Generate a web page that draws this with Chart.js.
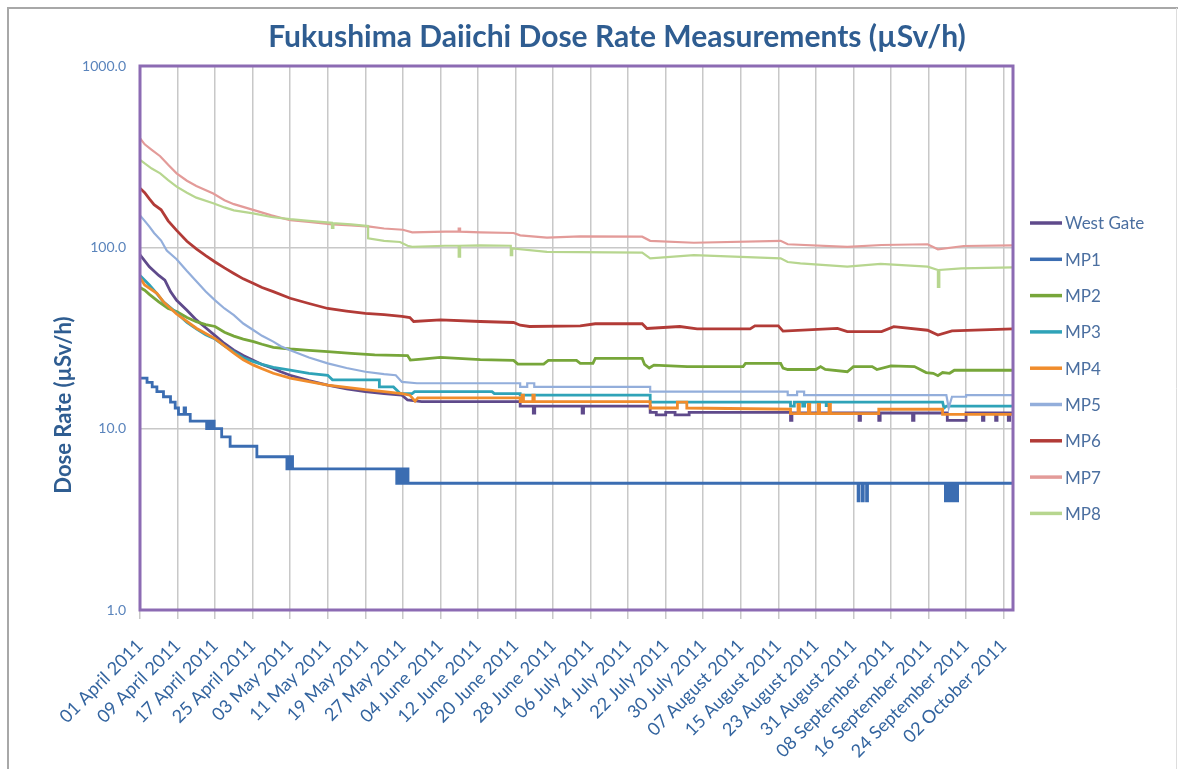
<!DOCTYPE html>
<html lang="en">
<head>
    <meta charset="utf-8" />
    <title>Fukushima Daiichi Dose Rate Measurements</title>
    <script src="https://cdn.jsdelivr.net/npm/chart.js"></script>
    <style>
        body { margin: 0; background: #fff; }
        #doseChart { display: block; }
    </style>
</head>
<body>
<canvas id="doseChart" width="1178" height="769"></canvas>

<script>
    // Chart texts
    var chartTitle = 'Fukushima Daiichi Dose Rate Measurements (µSv/h)';
    var yAxisTitle = 'Dose Rate (µSv/h)';

    // x axis: days since 01 April 2011, one label every 8 days
    var xTickLabels = ['01 April 2011', '09 April 2011', '17 April 2011', '25 April 2011', '03 May 2011',
        '11 May 2011', '19 May 2011', '27 May 2011', '04 June 2011', '12 June 2011', '20 June 2011',
        '28 June 2011', '06 July 2011', '14 July 2011', '22 July 2011', '30 July 2011', '07 August 2011',
        '15 August 2011', '23 August 2011', '31 August 2011', '08 September 2011', '16 September 2011',
        '24 September 2011', '02 October 2011'];
    var lastDay = 186;
    var yTickValues = [1, 10, 100, 1000];

    var seriesNames = ['West Gate', 'MP1', 'MP2', 'MP3', 'MP4', 'MP5', 'MP6', 'MP7', 'MP8'];

    // [day, µSv/h]
    var westGate = [[0, 91], [2, 78], [4, 70], [5.3, 66], [6.5, 57], [7.8, 51], [10, 45], [12, 39.8], [14, 36], [16, 32.6],
        [18, 29.5], [20, 27.1], [22, 25.3], [24, 23.9], [26, 22.6], [28.4, 21.5], [30, 20.6], [32, 19.7], [36, 18.4],
        [40, 17.4], [44, 16.6], [48, 16], [52, 15.6], [55.8, 15.3], [57, 14.4], [60, 14.1], [81, 14.1], [81, 13.3],
        [83.8, 13.3], [83.8, 12.2], [84.1, 12.2], [84.1, 13.3], [94.2, 13.3], [94.2, 12.2], [94.5, 12.2], [94.5, 13.3],
        [108.7, 13.3], [108.7, 12.3], [110, 12.3], [110, 11.9], [112, 11.9], [112, 12.3], [114, 12.3], [114, 11.9],
        [117, 11.9], [117, 12.3], [138.6, 12.3], [138.6, 11.1], [138.9, 11.1], [138.9, 12.2], [153.2, 12.2],
        [153.2, 11.1], [153.5, 11.1], [153.5, 12.2], [157.4, 12.2], [157.4, 11.1], [157.7, 11.1], [157.7, 12.2],
        [164.6, 12.2], [164.6, 11.1], [164.9, 11.1], [164.9, 12.2], [172, 12.2], [172, 11.1], [176, 11.1], [176, 12.2],
        [179.5, 12.2], [179.5, 11.1], [179.8, 11.1], [179.8, 12.2], [182.3, 12.2], [182.3, 11.1], [182.6, 11.1],
        [182.6, 12.2], [185, 12.2], [185, 11.1], [185.3, 11.1], [185.3, 12.2], [186, 12.2]];
    var mp1 = [[0, 19], [1.5, 18], [2.6, 17], [3.6, 16], [5, 15], [6.5, 14], [7.5, 13], [8.2, 12], [9.4, 13], [9.7, 12],
        [10.7, 11], [14.2, 10], [14.5, 11], [14.8, 10], [15.1, 11], [15.4, 10], [15.6, 11], [15.8, 10], [17.4, 9],
        [19.2, 8], [24.9, 7], [31.3, 6], [31.6, 7], [31.9, 6], [32.2, 7], [32.5, 6], [54.7, 5], [55, 6], [55.3, 5],
        [55.6, 6], [55.9, 5], [56.2, 6], [56.5, 5], [56.9, 6], [57.1, 5], [153, 4], [153.2, 5], [153.9, 4], [154.1, 5],
        [154.8, 4], [155, 5], [171.6, 4], [171.8, 5], [172.4, 4], [172.6, 5], [173.2, 4], [173.4, 5], [174, 4],
        [174.2, 5], [186, 5]];
    var mp2 = [[0, 60], [1, 58], [2, 55], [4, 50], [6, 46], [7.8, 44.3], [10, 41], [12, 38.9], [14, 37.5], [16, 36.6],
        [18, 34], [20, 32.4], [22, 31.2], [24.2, 30.2], [26, 29.2], [28.4, 28.1], [32, 27.5], [36, 27], [40, 26.6],
        [45, 26], [50, 25.5], [57, 25.3], [57.6, 23.9], [60, 24.2], [64, 24.7], [72.5, 24], [79.6, 23.8], [80.5, 22.7],
        [86, 22.7], [87, 23.8], [93, 23.8], [93.8, 22.9], [96.5, 22.9], [97, 24.4], [107, 24.4], [107.5, 22.6],
        [108.5, 21.6], [109.5, 22.4], [116.6, 22], [128.5, 22], [129, 22.9], [136.5, 22.9], [137, 21.6], [138, 21.2],
        [144, 21.2], [145, 22], [146, 21.2], [150.7, 20.6], [152, 22], [156, 22], [157, 21.2], [160, 22.2], [165, 22],
        [167.5, 20.4], [169, 20.2], [170, 19.6], [171, 20.4], [172.5, 20.2], [173.5, 21], [186, 21]];
    var mp3 = [[0, 70], [2, 62], [3.6, 55.5], [5, 50], [7.8, 43.5], [10, 38.5], [12, 35.5], [14, 33], [16, 31.2],
        [18, 28.6], [20, 26.5], [22, 24.6], [24, 23.5], [26, 22.6], [28.4, 21.8], [32, 21], [36, 20.2], [40, 19.7],
        [41, 18.6], [51, 18.6], [51, 17], [54, 17], [55.5, 15.6], [58, 15.6], [58.5, 16], [75, 16], [75.5, 15.6],
        [81, 15.6], [81, 15.3], [108.7, 15.3], [108.7, 14], [138.6, 14], [138.6, 13.3], [139.4, 13.3], [139.4, 14],
        [141.2, 14], [141.2, 13.3], [141.6, 13.3], [141.6, 14], [146.2, 14], [146.2, 13.4], [146.6, 13.4],
        [146.6, 14], [171, 14], [171.3, 13], [171.8, 13.3], [186, 13.3]];
    var mp4 = [[0, 68], [1, 62], [3.6, 55.8], [5, 50], [7.8, 43], [10, 39], [12, 35.8], [14, 33.5], [16, 31.4],
        [18, 28.6], [20, 26.1], [22, 24], [24.2, 22.4], [26, 21.4], [28.4, 20.2], [32, 19], [36, 18.2], [40, 17.4],
        [44, 16.9], [48, 16.4], [52, 16], [55.8, 15.6], [57.5, 15.3], [58.6, 14.2], [59.2, 14.8], [81, 14.8],
        [81, 14.1], [81.4, 14.1], [81.4, 15.3], [81.7, 15.3], [81.7, 14.1], [83.7, 14.1], [83.7, 15.3], [84, 15.3],
        [84, 14.1], [108.7, 14.1], [108.7, 13], [114.5, 13], [114.5, 14], [116.5, 14], [116.5, 13], [138.6, 12.8],
        [138.6, 12.1], [140.2, 12.1], [140.2, 13.6], [140.5, 13.6], [140.5, 12.1], [142.4, 12.1], [142.4, 13.6],
        [142.7, 13.6], [142.7, 12.1], [144.5, 12.1], [144.5, 13.6], [144.8, 13.6], [144.8, 12.1], [146.8, 12.1],
        [146.8, 13.6], [147.1, 13.6], [147.1, 12.1], [157.4, 12.1], [157.4, 12.8], [171, 12.8], [171, 12], [186, 12]];
    var mp5 = [[0, 150], [1, 140], [2, 130], [3, 120], [4.5, 109], [5.7, 96], [7.8, 86], [10, 74], [12, 65], [14, 57],
        [16, 51], [18, 46], [20, 42.3], [22, 38], [24.2, 34.9], [26, 32.5], [28.4, 30.2], [30, 28.5], [32, 27.1],
        [36, 24.7], [40, 22.9], [44, 21.6], [48, 20.6], [52, 20], [54.5, 19.7], [55.8, 18.1], [59, 17.8], [81, 17.8],
        [81, 17], [82.5, 17], [82.5, 17.8], [84, 17.8], [84, 17], [108.7, 17], [108.7, 16], [138, 16], [138, 15.3],
        [140, 15.3], [140, 16], [141.5, 16], [141.5, 15.3], [171.8, 15.3], [172.3, 13], [173, 15], [176, 15],
        [176, 15.3], [186, 15.3]];
    var mp6 = [[0, 212], [1, 200], [2, 185], [3, 172], [4.5, 161], [6, 140], [7.8, 124], [10, 108], [12, 98],
        [14, 90], [16, 83], [18, 77], [20, 71.7], [22, 67], [24.2, 63.2], [26, 60], [28.4, 57], [32, 52.4], [36, 49],
        [40, 46], [44, 44.5], [48, 43.2], [52, 42.5], [55.8, 41.6], [57.5, 41], [58.3, 39], [64, 39.8], [72.5, 39],
        [79.6, 38.5], [81, 37.2], [83, 36.6], [93.8, 36.9], [97, 37.9], [107, 37.9], [108, 35.7], [115, 36.6],
        [118.7, 35.5], [130, 35.5], [131, 36.9], [136, 36.9], [137, 34.5], [148.6, 35.7], [150.7, 34.3], [158, 34.3],
        [160.6, 36.5], [167.8, 34.9], [170, 32.8], [173, 34.6], [186, 35.5]];
    var mp7 = [[0, 400], [1, 370], [2.5, 345], [4.3, 318], [6, 285], [7.8, 256], [10, 233], [12, 218], [15.6, 198],
        [18, 182], [20, 173], [24.1, 161], [28, 150], [32, 141], [36, 138], [41, 134], [45, 132], [49, 130], [52, 127],
        [56, 125], [58, 121], [65, 122], [67.9, 122], [67.9, 127], [68.2, 127], [68.2, 122], [72.5, 121], [79.6, 120],
        [81, 116.5], [86.7, 113], [93.8, 115], [107, 114.5], [108.7, 108.6], [118, 106], [136.5, 108.6], [138, 104],
        [150.7, 100.6], [158, 103], [167.8, 104], [170, 97.5], [175.5, 101.7], [186, 102.6]];
    var mp8 = [[0, 304], [1, 290], [2.5, 272], [4.3, 256], [6, 235], [7.8, 216], [10, 200], [12, 188], [15.6, 175],
        [18, 166], [20, 160], [24.1, 154], [28, 147], [32, 143], [36, 140], [40.9, 136.5], [40.9, 128], [41.2, 128],
        [41.2, 136], [45, 134], [48.6, 131], [48.6, 112], [52, 108.6], [55.4, 107], [57, 102], [58, 100.6], [65, 102],
        [67.9, 102], [67.9, 88.8], [68.2, 88.8], [68.2, 102], [72.5, 102.6], [79, 102], [79, 90.6], [79.3, 90.6],
        [79.3, 98.5], [86.7, 94.5], [107, 93.5], [108.7, 87], [118, 90.6], [136.5, 87], [138, 83], [140.7, 81.5],
        [150.7, 78.3], [157.8, 81], [167.8, 78.3], [170, 75], [170, 60.5], [170.3, 60.5], [170.3, 75], [175, 76.5],
        [186, 77.6]];

    var seriesData = [westGate, mp1, mp2, mp3, mp4, mp5, mp6, mp7, mp8];
    var seriesColors = ['#5F4A8B', '#3B6DB2', '#77A63A', '#2FA3B8', '#F08C2C', '#93AEDB', '#B23B37', '#E39B99', '#B7D68F'];

    var fontFamily = "Lato, 'Open Sans', sans-serif";
    Chart.defaults.font.family = fontFamily;

    // title, y title, legend and frames drawn around the plot
    var decorPlugin = {
        id: 'decor',
        beforeDraw: function (chart) {
            var ctx = chart.ctx;
            ctx.save();
            ctx.fillStyle = '#fff';
            ctx.fillRect(0, 0, chart.width, chart.height);
            ctx.strokeStyle = '#A8A8A8';
            ctx.lineWidth = 2;
            ctx.beginPath();
            ctx.moveTo(8, chart.height);
            ctx.lineTo(8, 8);
            ctx.lineTo(chart.width, 8);
            ctx.stroke();
            ctx.strokeStyle = '#DDDDDD';
            ctx.lineWidth = 1;
            ctx.beginPath();
            ctx.moveTo(1176.5, 8);
            ctx.lineTo(1176.5, chart.height);
            ctx.stroke();
            ctx.restore();
        },
        afterDraw: function (chart) {
            var ctx = chart.ctx;
            var area = chart.chartArea;
            ctx.save();
            // plot border
            ctx.strokeStyle = '#8C6BB3';
            ctx.lineWidth = 3;
            ctx.strokeRect(area.left, area.top, area.right - area.left, area.bottom - area.top);

            // chart title
            ctx.fillStyle = '#2F5D91';
            ctx.textAlign = 'center';
            ctx.textBaseline = 'alphabetic';
            ctx.font = 'bold 30px ' + fontFamily;
            ctx.fillText(chartTitle, 617, 47);

            // y axis title
            ctx.save();
            ctx.translate(71, 405);
            ctx.rotate(-Math.PI / 2);
            ctx.font = 'bold 22px ' + fontFamily;
            ctx.fillText(yAxisTitle, 0, 0);
            ctx.restore();

            // legend
            ctx.textAlign = 'left';
            ctx.textBaseline = 'middle';
            ctx.font = '17px ' + fontFamily;
            seriesNames.forEach(function (name, i) {
                var y = 223 + i * 36.3;
                ctx.strokeStyle = seriesColors[i];
                ctx.lineWidth = 3.5;
                ctx.beginPath();
                ctx.moveTo(area.right + 17, y);
                ctx.lineTo(area.right + 49, y);
                ctx.stroke();
                ctx.fillStyle = '#4B6FA0';
                ctx.fillText(name, area.right + 52, y + 1);
            });
            ctx.restore();
        }
    };

    var ctx = document.getElementById('doseChart').getContext('2d');
    var doseChart = new Chart(ctx, {
        type: 'line',
        data: {
            datasets: seriesNames.map(function (name, i) {
                var light = (name === 'MP5' || name === 'MP7' || name === 'MP8');
                return {
                    label: name,
                    data: seriesData[i].map(function (p) { return { x: p[0], y: p[1] }; }),
                    borderColor: seriesColors[i],
                    backgroundColor: seriesColors[i],
                    borderWidth: light ? 2.2 : 2.8,
                    pointRadius: 0,
                    stepped: name === 'MP1',
                    tension: 0,
                    fill: false,
                    order: -i
                };
            })
        },
        options: {
            responsive: false,
            animation: false,
            layout: {
                padding: { left: 0, right: 165, top: 66, bottom: 0 }
            },
            plugins: {
                legend: { display: false },
                title: { display: false },
                tooltip: { enabled: false }
            },
            scales: {
                x: {
                    type: 'linear',
                    min: 0,
                    max: lastDay,
                    afterBuildTicks: function (scale) {
                        scale.ticks = xTickLabels.map(function (label, i) { return { value: i * 8 }; });
                    },
                    afterFit: function (scale) {
                        scale.height = 159;
                    },
                    grid: {
                        color: '#C8C8C8',
                        lineWidth: 1.5,
                        drawTicks: true,
                        tickLength: 9
                    },
                    border: { display: false },
                    ticks: {
                        autoSkip: false,
                        maxRotation: 45,
                        minRotation: 45,
                        padding: 16,
                        color: '#33649F',
                        font: { size: 18 },
                        callback: function (value, index) {
                            return xTickLabels[index];
                        }
                    }
                },
                y: {
                    type: 'logarithmic',
                    min: 1,
                    max: 1000,
                    afterBuildTicks: function (scale) {
                        scale.ticks = yTickValues.map(function (v) { return { value: v }; });
                    },
                    afterFit: function (scale) {
                        scale.width = 140;
                    },
                    grid: {
                        color: '#C8C8C8',
                        lineWidth: 1.5,
                        drawTicks: false
                    },
                    border: { display: false },
                    ticks: {
                        padding: 14,
                        color: '#5A84BC',
                        font: { size: 14 },
                        callback: function (value) {
                            return Number(value).toFixed(1);
                        }
                    }
                }
            }
        },
        plugins: [decorPlugin]
    });
</script>
</body>
</html>
